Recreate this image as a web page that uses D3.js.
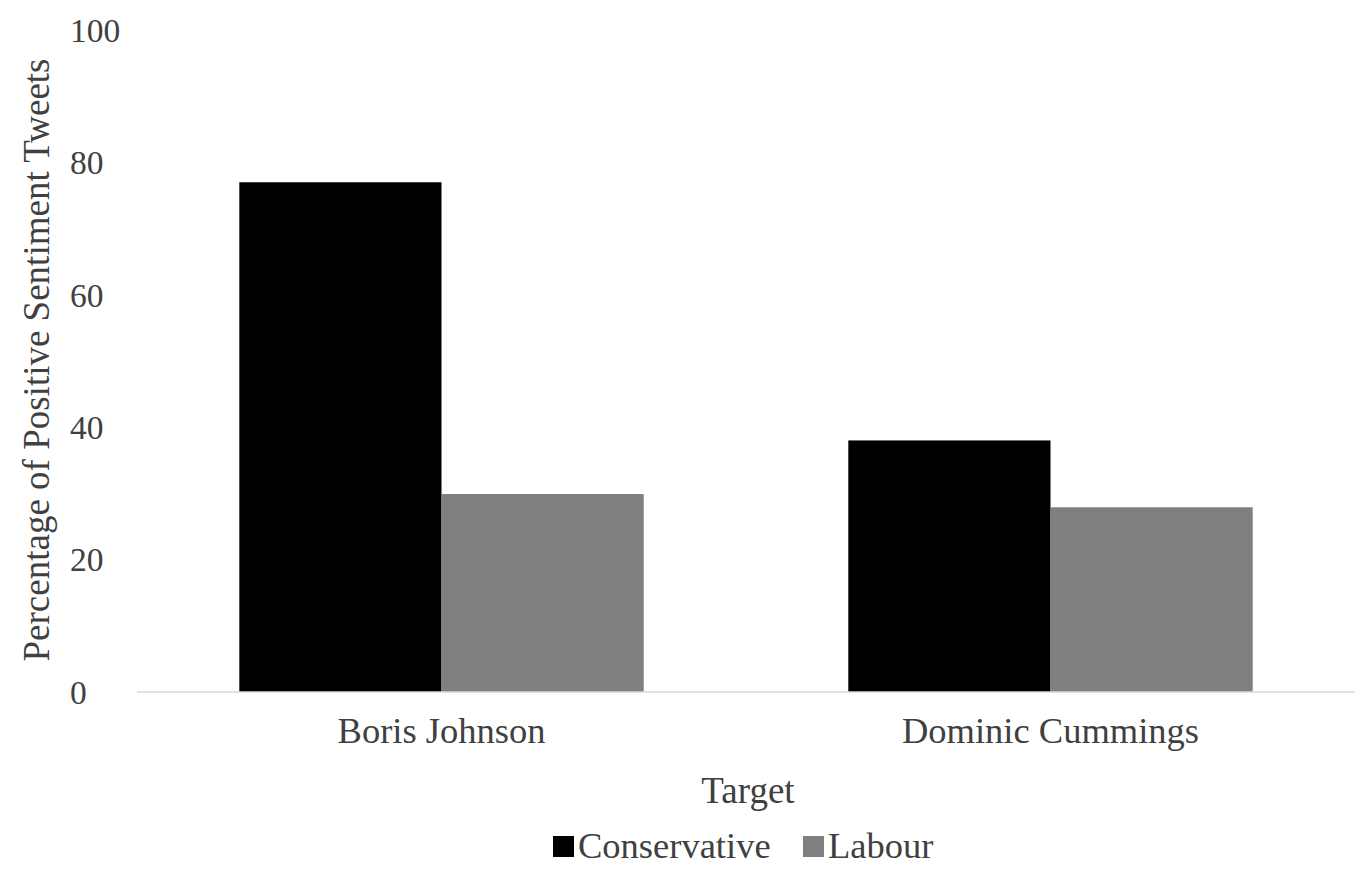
<!DOCTYPE html>
<html>
<head>
<meta charset="utf-8">
<script src="https://cdn.jsdelivr.net/npm/d3@7"></script>
<style>
  body { margin: 0; background: #fff; }
  text { font-family: "Liberation Serif", "Times New Roman", serif; fill: #404040; }
</style>
</head>
<body>
<svg id="chart" width="1368" height="880"></svg>
<script>
// data
var targets = ["Boris Johnson", "Dominic Cummings"];
var parties = ["Conservative", "Labour"];
var conservative = [77.0, 38.0];
var labour = [29.9, 27.9];
var yTicks = [0, 20, 40, 60, 80, 100];

var colors = ["#000000", "#7f7f7f"];
var values = [conservative, labour];

var svg = d3.select("#chart");
var plotLeft = 137, plotRight = 1355, plotTop = 30, plotBottom = 692;

var x0 = d3.scaleBand().domain(targets).range([plotLeft, plotRight])
    .paddingInner(0.336).paddingOuter(0.168);
var x1 = d3.scaleBand().domain(parties).range([0, x0.bandwidth()]);
var y = d3.scaleLinear().domain([0, 100]).range([plotBottom, plotTop]);

// y tick labels (left aligned like the original)
svg.append("g").selectAll("text")
    .data(yTicks)
    .enter().append("text")
    .attr("x", 70)
    .attr("y", function(d){ return y(d); })
    .attr("dy", "0.35em")
    .style("font-size", "33.5px")
    .text(function(d){ return d; });

// bars
var groups = svg.append("g").selectAll("g")
    .data(targets)
    .enter().append("g")
    .attr("transform", function(d){ return "translate(" + x0(d) + ",0)"; });

groups.selectAll("rect")
    .data(function(d, i){
        return parties.map(function(p, j){ return {party: p, value: values[j][i], j: j}; });
    })
    .enter().append("rect")
    .attr("x", function(d){ return x1(d.party); })
    .attr("width", x1.bandwidth())
    .attr("y", function(d){ return y(d.value); })
    .attr("height", function(d){ return y(0) - y(d.value); })
    .attr("fill", function(d){ return colors[d.j]; });

// x axis line
svg.append("line")
    .attr("x1", plotLeft).attr("x2", plotRight)
    .attr("y1", y(0)).attr("y2", y(0))
    .attr("stroke", "#d9d9d9").attr("stroke-width", 1.5);

// category labels
svg.append("g").selectAll("text")
    .data(targets)
    .enter().append("text")
    .attr("x", function(d){ return x0(d) + x0.bandwidth() / 2; })
    .attr("y", 743)
    .attr("text-anchor", "middle")
    .style("font-size", "36.5px")
    .text(function(d){ return d; });

// axis titles
svg.append("text")
    .attr("x", 748).attr("y", 803)
    .attr("text-anchor", "middle")
    .style("font-size", "37px")
    .text("Target");

svg.append("text")
    .attr("transform", "translate(49,360) rotate(-90)")
    .attr("text-anchor", "middle")
    .style("font-size", "37px")
    .text("Percentage of Positive Sentiment Tweets");

// legend
var legend = svg.append("g").selectAll("g")
    .data(parties)
    .enter().append("g")
    .attr("transform", function(d, i){ return "translate(" + [553, 803][i] + ",836)"; });

legend.append("rect")
    .attr("width", 21).attr("height", 21)
    .attr("fill", function(d, i){ return colors[i]; });

legend.append("text")
    .attr("x", 25).attr("y", 22)
    .style("font-size", "36.5px")
    .text(function(d){ return d; });
</script>
</body>
</html>
